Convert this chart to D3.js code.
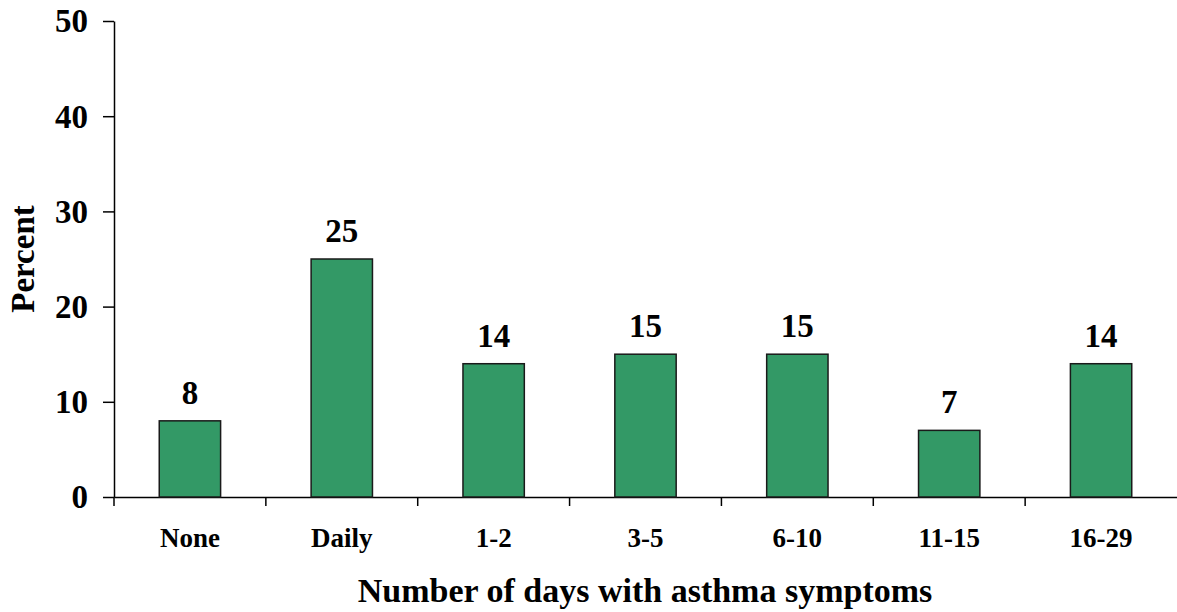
<!DOCTYPE html>
<html>
<head>
<meta charset="utf-8">
<script src="https://cdn.jsdelivr.net/npm/d3@7"></script>
<style>
  body { margin: 0; background: #fff; }
  svg text { font-family: "Liberation Serif", "Times New Roman", serif; font-weight: bold; fill: #000; }
</style>
</head>
<body>
<svg id="chart"></svg>
<script>
// data
var categories = ["None", "Daily", "1-2", "3-5", "6-10", "11-15", "16-29"];
var percents = [8, 25, 14, 15, 15, 7, 14];
var yTicks = [0, 10, 20, 30, 40, 50];

var width = 1177;
var height = 612;
var margin = { top: 21, right: 0, bottom: 115, left: 114 };

var svg = d3.select("#chart")
  .attr("width", width)
  .attr("height", height);

var x = d3.scaleBand()
  .domain(categories)
  .range([margin.left, width - margin.right])
  .paddingInner(0.596)
  .paddingOuter(0.298);

var y = d3.scaleLinear()
  .domain([0, 50])
  .range([height - margin.bottom, margin.top]);

// y axis
var yAxis = svg.append("g")
  .attr("transform", `translate(${margin.left},0)`)
  .call(d3.axisLeft(y).tickValues(yTicks).tickSize(11).tickSizeOuter(0).tickPadding(15));
yAxis.select(".domain").attr("stroke", "#000").attr("stroke-width", 1.5);
yAxis.selectAll(".tick line").attr("stroke", "#000").attr("stroke-width", 1.5);
yAxis.selectAll(".tick text")
  .style("font-size", "33px")
  .attr("dy", "0.33em");

// x axis line + category labels
var xAxis = svg.append("g")
  .attr("transform", `translate(0,${y(0)})`)
  .call(d3.axisBottom(x).tickSize(0).tickSizeOuter(0).tickPadding(31));
xAxis.select(".domain").attr("stroke", "#000").attr("stroke-width", 1.5);
xAxis.selectAll(".tick text")
  .style("font-size", "27px")
  .attr("dy", "0.71em");

// tick marks between categories
var gap = x.step() - x.bandwidth();
svg.append("g")
  .selectAll("line")
  .data(categories)
  .join("line")
  .attr("x1", d => x(d) - gap / 2)
  .attr("x2", d => x(d) - gap / 2)
  .attr("y1", y(0))
  .attr("y2", y(0) + 9)
  .attr("stroke", "#000")
  .attr("stroke-width", 1.5);

// bars
svg.append("g")
  .selectAll("rect")
  .data(percents)
  .join("rect")
  .attr("x", (d, i) => x(categories[i]))
  .attr("y", d => y(d))
  .attr("width", x.bandwidth())
  .attr("height", d => y(0) - y(d))
  .attr("fill", "#339966")
  .attr("stroke", "#1a1a1a")
  .attr("stroke-width", 1.5);

// value labels
svg.append("g")
  .selectAll("text")
  .data(percents)
  .join("text")
  .attr("x", (d, i) => x(categories[i]) + x.bandwidth() / 2)
  .attr("y", d => y(d) - 17)
  .attr("text-anchor", "middle")
  .style("font-size", "33px")
  .text(d => d);

// axis titles
svg.append("text")
  .attr("x", 645)
  .attr("y", 602)
  .attr("text-anchor", "middle")
  .style("font-size", "34px")
  .text("Number of days with asthma symptoms");

svg.append("text")
  .attr("transform", `translate(34,${(y(0) + y(50)) / 2}) rotate(-90)`)
  .attr("text-anchor", "middle")
  .style("font-size", "33px")
  .text("Percent");
</script>
</body>
</html>
